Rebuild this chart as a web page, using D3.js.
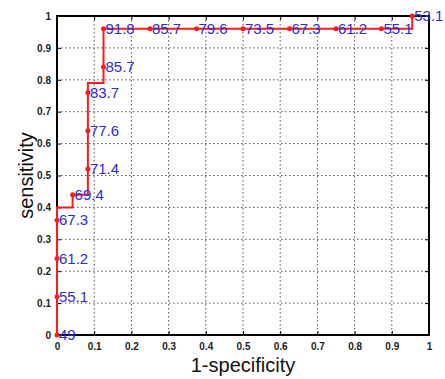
<!DOCTYPE html>
<html>
<head>
<meta charset="utf-8">
<script src="https://cdn.jsdelivr.net/npm/d3@7"></script>
<style>
  body { margin: 0; background: #fff; }
  svg { display: block; }
</style>
</head>
<body>
<svg id="roc" width="445" height="379"></svg>
<script>
// ROC staircase vertices (1-specificity, sensitivity)
const pathX = [0, 0, 0, 0, 0, 0.042, 0.042, 0.083, 0.083, 0.083, 0.083, 0.083, 0.125, 0.125, 0.125, 0.25, 0.375, 0.5, 0.625, 0.75, 0.872, 0.955, 0.955];
const pathY = [0, 0.12, 0.24, 0.36, 0.40, 0.40, 0.44, 0.44, 0.52, 0.64, 0.76, 0.79, 0.79, 0.84, 0.96, 0.96, 0.96, 0.96, 0.96, 0.96, 0.96, 0.96, 1];

// labelled threshold points
const ptX = [0, 0, 0, 0, 0.042, 0.083, 0.083, 0.083, 0.125, 0.125, 0.25, 0.375, 0.5, 0.625, 0.75, 0.872, 0.955];
const ptY = [0, 0.12, 0.24, 0.36, 0.44, 0.52, 0.64, 0.76, 0.84, 0.96, 0.96, 0.96, 0.96, 0.96, 0.96, 0.96, 1];
const ptLabels = ["49", "55.1", "61.2", "67.3", "69.4", "71.4", "77.6", "83.7", "85.7", "91.8", "85.7", "79.6", "73.5", "67.3", "61.2", "55.1", "53.1"];

const ticks = [0, 0.1, 0.2, 0.3, 0.4, 0.5, 0.6, 0.7, 0.8, 0.9, 1];
const tickLabels = ["0", "0.1", "0.2", "0.3", "0.4", "0.5", "0.6", "0.7", "0.8", "0.9", "1"];

const svg = d3.select("#roc");
const plotL = 57, plotR = 429, plotT = 16, plotB = 335;

const x = d3.scaleLinear().domain([0, 1]).range([plotL, plotR]);
const y = d3.scaleLinear().domain([0, 1]).range([plotB, plotT]);

// grid
const grid = svg.append("g");
grid.selectAll(".gx")
  .data(ticks.slice(1, -1))
  .enter()
  .append("line")
  .attr("x1", (d) => x(d))
  .attr("x2", (d) => x(d))
  .attr("y1", plotT)
  .attr("y2", plotB)
  .attr("stroke", "#555")
  .attr("stroke-width", 1)
  .attr("stroke-dasharray", "1.5,2.5");
grid.selectAll(".gy")
  .data(ticks.slice(1, -1))
  .enter()
  .append("line")
  .attr("y1", (d) => y(d))
  .attr("y2", (d) => y(d))
  .attr("x1", plotL)
  .attr("x2", plotR)
  .attr("stroke", "#555")
  .attr("stroke-width", 1)
  .attr("stroke-dasharray", "1.5,2.5");

// axes (ticks pointing inward, MATLAB style)
const tickFont = (g) =>
  g.selectAll("text")
    .style("font-family", "Liberation Sans, Arial, sans-serif")
    .style("font-size", "10px")
    .style("font-weight", "bold")
    .attr("fill", "#222");

svg.append("g")
  .attr("transform", `translate(0, ${plotB})`)
  .call(d3.axisBottom(x).tickValues(ticks).tickFormat((d, i) => tickLabels[i]).tickSizeInner(-4).tickSizeOuter(0).tickPadding(8))
  .call((g) => g.select(".domain").remove())
  .call(tickFont);

svg.append("g")
  .attr("transform", `translate(${plotL}, 0)`)
  .call(d3.axisLeft(y).tickValues(ticks).tickFormat((d, i) => tickLabels[i]).tickSizeInner(-4).tickSizeOuter(0).tickPadding(6))
  .call((g) => g.select(".domain").remove())
  .call(tickFont);

svg.append("g")
  .attr("transform", `translate(${plotR}, 0)`)
  .call(d3.axisRight(y).tickValues(ticks).tickFormat("").tickSizeInner(-4).tickSizeOuter(0))
  .call((g) => g.select(".domain").remove());

svg.append("g")
  .attr("transform", `translate(0, ${plotT})`)
  .call(d3.axisTop(x).tickValues(ticks).tickFormat("").tickSizeInner(-4).tickSizeOuter(0))
  .call((g) => g.select(".domain").remove());

// box
svg.append("rect")
  .attr("x", plotL)
  .attr("y", plotT)
  .attr("width", plotR - plotL)
  .attr("height", plotB - plotT)
  .attr("fill", "none")
  .attr("stroke", "#000")
  .attr("stroke-width", 2);

// ROC line
const line = d3.line()
  .x((d) => x(d[0]))
  .y((d) => y(d[1]));

svg.append("path")
  .attr("fill", "none")
  .attr("stroke", "#ff1a1a")
  .attr("stroke-width", 2)
  .attr("d", line(pathX.map((d, i) => [d, pathY[i]])));

// markers
const pts = ptX.map((d, i) => ({ x: d, y: ptY[i], label: ptLabels[i] }));
svg.selectAll(".pt")
  .data(pts)
  .enter()
  .append("circle")
  .attr("cx", (d) => x(d.x))
  .attr("cy", (d) => y(d.y))
  .attr("r", 2.5)
  .attr("fill", "#ff1a1a");

// labels
svg.selectAll(".lbl")
  .data(pts)
  .enter()
  .append("text")
  .attr("x", (d) => x(d.x) + 2)
  .attr("y", (d) => y(d.y))
  .attr("dy", "0.35em")
  .style("font-family", "Liberation Sans, Arial, sans-serif")
  .style("font-size", "15px")
  .attr("fill", "#2b2bd9")
  .text((d) => d.label);

// axis titles
svg.append("text")
  .attr("x", (plotL + plotR) / 2)
  .attr("y", 372)
  .attr("text-anchor", "middle")
  .style("font-family", "Liberation Sans, Arial, sans-serif")
  .style("font-size", "20px")
  .attr("fill", "#111")
  .text("1-specificity");

svg.append("text")
  .attr("transform", `translate(33, ${(plotT + plotB) / 2}) rotate(-90)`)
  .attr("text-anchor", "middle")
  .style("font-family", "Liberation Sans, Arial, sans-serif")
  .style("font-size", "20px")
  .attr("fill", "#111")
  .text("sensitivity");
</script>
</body>
</html>
